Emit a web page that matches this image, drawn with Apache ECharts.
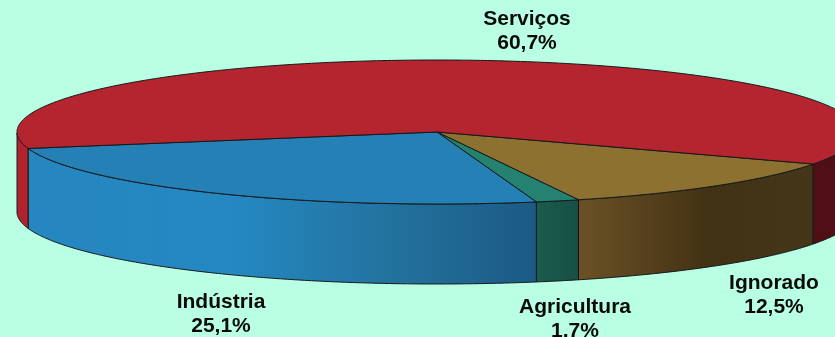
<!DOCTYPE html>
<html>
<head>
<meta charset="utf-8">
<style>html,body{margin:0;padding:0;background:#b9ffe3}#c{width:835px;height:337px}</style>
<script src="https://cdn.jsdelivr.net/npm/echarts@6/dist/echarts.min.js"></script>
</head>
<body>
<div id="c"></div>
<script>
const categories = ['Ignorado', 'Agricultura', 'Indústria', 'Serviços'];
const values = [12.5, 1.7, 25.1, 60.7];
const valueLabels = ['12,5%', '1,7%', '25,1%', '60,7%'];

const topColors = ['#8d7130', '#268270', '#2480b5', '#b5252f'];
const wallStops = [
  [[0, '#6b5125'], [0.55, '#423214'], [1, '#45361a']],
  [[0, '#1a5c4e'], [1, '#184f44']],
  [[0, '#2686bf'], [0.4, '#2588c2'], [0.7, '#23739f'], [1, '#1b5a85']],
  [[0, '#b0232c'], [1, '#b0232c']]
];
const rightWallColor = '#500f15';
const labelCenters = [[774, 295], [575, 319], [221, 314], [527, 31.5]];

const CX = 437, CY = 132, A = 420, B = 72, DEPTH = 80, START = 26.4;
const OUTLINE = '#14181a';

// Small angular correction for the view projection of the tilted disc.
function project(deg) {
  const rad = d => d * Math.PI / 180;
  return deg + 1.5 * (Math.cos(rad(deg - 300)) - Math.cos(rad(START - 300)));
}
function pt(deg, dy) {
  const r = project(deg) * Math.PI / 180;
  return [CX + A * Math.cos(r), CY + B * Math.sin(r) + (dy || 0)];
}
function arcPts(from, to, dy) {
  const out = [], n = Math.max(2, Math.ceil(Math.abs(to - from) * 2));
  for (let i = 0; i <= n; i++) out.push(pt(from + (to - from) * i / n, dy));
  return out;
}
function wall(from, to, fill) {
  return {
    type: 'polygon',
    shape: { points: arcPts(from, to, 0).concat(arcPts(to, from, DEPTH)) },
    style: { fill: fill, stroke: OUTLINE, lineWidth: 1 }
  };
}
function grad(x0, x1, stops) {
  return {
    type: 'linear', x: x0, y: 0, x2: x1, y2: 0, global: true,
    colorStops: stops.map(s => ({ offset: s[0], color: s[1] }))
  };
}

const spans = [];
let acc = START;
values.forEach(v => { spans.push([acc, acc + v * 3.6]); acc += v * 3.6; });

function renderItem(params) {
  const i = params.dataIndex, from = spans[i][0], to = spans[i][1];
  const children = [];
  // Visible front wall: the lower half of the ellipse (0..180, and again 360..540 after wrapping).
  [[0, 180], [360, 540]].forEach(function (win, w) {
    const a = Math.max(from, win[0]), b = Math.min(to, win[1]);
    if (b > a) {
      const x0 = pt(a)[0], x1 = pt(b)[0];
      const fill = w === 1 ? rightWallColor : grad(Math.min(x0, x1), Math.max(x0, x1), wallStops[i]);
      children.push(wall(a, b, fill));
    }
  });
  children.push({
    type: 'polygon',
    shape: { points: [[CX, CY]].concat(arcPts(from, to, 0)) },
    style: { fill: topColors[i], stroke: OUTLINE, lineWidth: 1, lineJoin: 'round' }
  });
  children.push({
    type: 'text',
    z2: 10,
    style: {
      x: labelCenters[i][0], y: labelCenters[i][1],
      text: categories[i] + '\n' + valueLabels[i],
      align: 'center', verticalAlign: 'middle',
      font: 'bold 21px "Liberation Sans", Arial, sans-serif',
      lineHeight: 24, fill: '#0a0a0a'
    }
  });
  return { type: 'group', children: children };
}

const chart = echarts.init(document.getElementById('c'), null, { renderer: 'canvas' });
chart.setOption({
  backgroundColor: '#b9ffe3',
  animation: false,
  series: [{
    type: 'custom',
    coordinateSystem: 'none',
    renderItem: renderItem,
    data: categories.map((n, i) => ({ name: n, value: values[i] }))
  }]
});
</script>
</body>
</html>
